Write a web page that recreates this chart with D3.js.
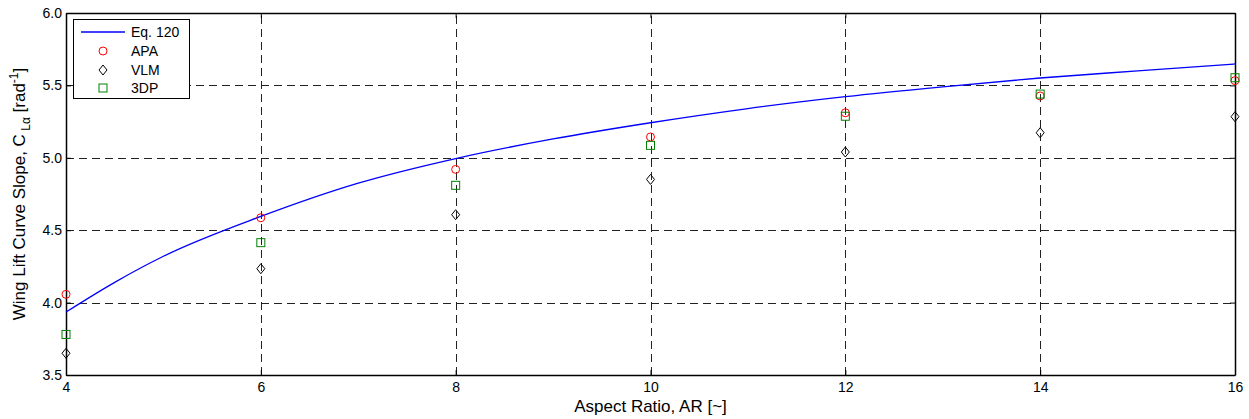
<!DOCTYPE html>
<html>
<head>
<meta charset="utf-8">
<script src="https://cdn.jsdelivr.net/npm/d3@7"></script>
<style>
  body { margin: 0; background: #fff; }
  text { font-family: "Liberation Sans", Arial, sans-serif; }
</style>
</head>
<body>
<svg id="chart" width="1249" height="419"></svg>
<script>
// curve (Eq. 120)
const eqAR = [4, 4.5, 5, 6, 7, 8, 9, 10, 11, 12, 13, 14, 15, 16];
const eqCLa = [3.935, 4.14, 4.32, 4.595, 4.825, 4.995, 5.13, 5.242, 5.34, 5.422, 5.49, 5.551, 5.60, 5.648];

// discrete results
const ptAR = [4, 6, 8, 10, 12, 14, 16];
const apa = [4.057, 4.586, 4.92, 5.144, 5.311, 5.427, 5.533];
const vlm = [3.65, 4.234, 4.607, 4.851, 5.04, 5.173, 5.284];
const tdp = [3.78, 4.414, 4.81, 5.086, 5.287, 5.44, 5.553];

const xTicks = [4, 6, 8, 10, 12, 14, 16];
const yTicks = [3.5, 4.0, 4.5, 5.0, 5.5, 6.0];

const pLeft = 66, pRight = 1235, pTop = 13, pBottom = 375;
const svg = d3.select("#chart");

const x = d3.scaleLinear().domain([4, 16]).range([pLeft, pRight]);
const y = d3.scaleLinear().domain([3.5, 6.0]).range([pBottom, pTop]);

// grid
const grid = svg.append("g")
  .attr("stroke", "#222")
  .attr("stroke-width", 1)
  .attr("stroke-dasharray", "8,5")
  .attr("shape-rendering", "crispEdges");
grid.selectAll("line.gx")
  .data(xTicks.slice(1, -1))
  .enter().append("line")
  .attr("x1", d => Math.round(x(d)) + 0.5).attr("x2", d => Math.round(x(d)) + 0.5)
  .attr("y1", pBottom).attr("y2", pTop);
grid.selectAll("line.gy")
  .data(yTicks.slice(1, -1))
  .enter().append("line")
  .attr("y1", d => Math.round(y(d)) + 0.5).attr("y2", d => Math.round(y(d)) + 0.5)
  .attr("x1", pLeft).attr("x2", pRight);

// axes (ticks inward, box on)
const xAxis = d3.axisBottom(x).tickValues(xTicks).tickFormat(d3.format("d")).tickSizeInner(-5).tickSizeOuter(0).tickPadding(9);
const yAxis = d3.axisLeft(y).tickValues(yTicks).tickFormat(d3.format(".1f")).tickSizeInner(-5).tickSizeOuter(0).tickPadding(4);

const gx = svg.append("g").attr("transform", `translate(0,${pBottom})`).call(xAxis);
const gy = svg.append("g").attr("transform", `translate(${pLeft},0)`).call(yAxis);
svg.append("g").attr("transform", `translate(0,${pTop})`)
  .call(d3.axisTop(x).tickValues(xTicks).tickFormat("").tickSizeInner(-5).tickSizeOuter(0));
svg.append("g").attr("transform", `translate(${pRight},0)`)
  .call(d3.axisRight(y).tickValues(yTicks).tickFormat("").tickSizeInner(-5).tickSizeOuter(0));

svg.selectAll(".domain").attr("stroke", "#000").attr("stroke-width", 1.5);
svg.selectAll(".tick line").attr("stroke", "#000");
svg.selectAll(".tick text").attr("font-size", 14).attr("fill", "#000")
  .style("font-family", "'Liberation Sans', Arial, sans-serif");
gx.selectAll(".tick text").attr("dy", "0.6em");

// curve
svg.append("path")
  .datum(eqAR.map((a, i) => [a, eqCLa[i]]))
  .attr("fill", "none")
  .attr("stroke", "#0000ff")
  .attr("stroke-width", 1.3)
  .attr("d", d3.line().x(d => x(d[0])).y(d => y(d[1])).curve(d3.curveMonotoneX));

// markers
function circleMark(g, cx, cy) {
  g.append("circle").attr("cx", cx).attr("cy", cy).attr("r", 4)
    .attr("fill", "none").attr("stroke", "#ff0000").attr("stroke-width", 1);
}
function diamondMark(g, cx, cy) {
  g.append("path").attr("d", `M${cx},${cy - 5}L${cx + 4},${cy}L${cx},${cy + 5}L${cx - 4},${cy}Z`)
    .attr("fill", "none").attr("stroke", "#000").attr("stroke-width", 1);
}
function squareMark(g, cx, cy) {
  g.append("rect").attr("x", cx - 4).attr("y", cy - 4).attr("width", 8).attr("height", 8)
    .attr("fill", "none").attr("stroke", "#008000").attr("stroke-width", 1);
}

const marks = svg.append("g");
ptAR.forEach((a, i) => {
  circleMark(marks, x(a), y(apa[i]));
  diamondMark(marks, x(a), y(vlm[i]));
  squareMark(marks, x(a), y(tdp[i]));
});

// legend
const lg = svg.append("g");
lg.append("rect").attr("x", 73.5).attr("y", 19.5).attr("width", 116).attr("height", 79)
  .attr("fill", "#fff").attr("stroke", "#000").attr("stroke-width", 1);
const legendRows = ["Eq. 120", "APA", "VLM", "3DP"];
const rowY = [32, 51, 70, 88];
lg.append("line").attr("x1", 81).attr("x2", 125).attr("y1", rowY[0]).attr("y2", rowY[0])
  .attr("stroke", "#0000ff").attr("stroke-width", 1.3);
circleMark(lg, 103, rowY[1]);
diamondMark(lg, 103, rowY[2]);
squareMark(lg, 103, rowY[3]);
lg.selectAll("text.lt")
  .data(legendRows)
  .enter().append("text")
  .attr("x", 131).attr("y", (d, i) => rowY[i])
  .attr("dy", "0.35em")
  .attr("font-size", 14)
  .text(d => d);

// axis titles
svg.append("text")
  .attr("x", (pLeft + pRight) / 2).attr("y", 412)
  .attr("text-anchor", "middle").attr("font-size", 17)
  .text("Aspect Ratio, AR [~]");

const yl = svg.append("text")
  .attr("transform", `translate(25,${(pTop + pBottom) / 2}) rotate(-90)`)
  .attr("text-anchor", "middle").attr("font-size", 17);
yl.append("tspan").text("Wing Lift Curve Slope, C");
yl.append("tspan").attr("font-size", 12).attr("dy", 5).text(" L\u03B1");
yl.append("tspan").attr("dy", -5).text("  [rad");
yl.append("tspan").attr("font-size", 12).attr("dy", -7).text("-1");
yl.append("tspan").attr("dy", 7).text("]");
</script>
</body>
</html>
